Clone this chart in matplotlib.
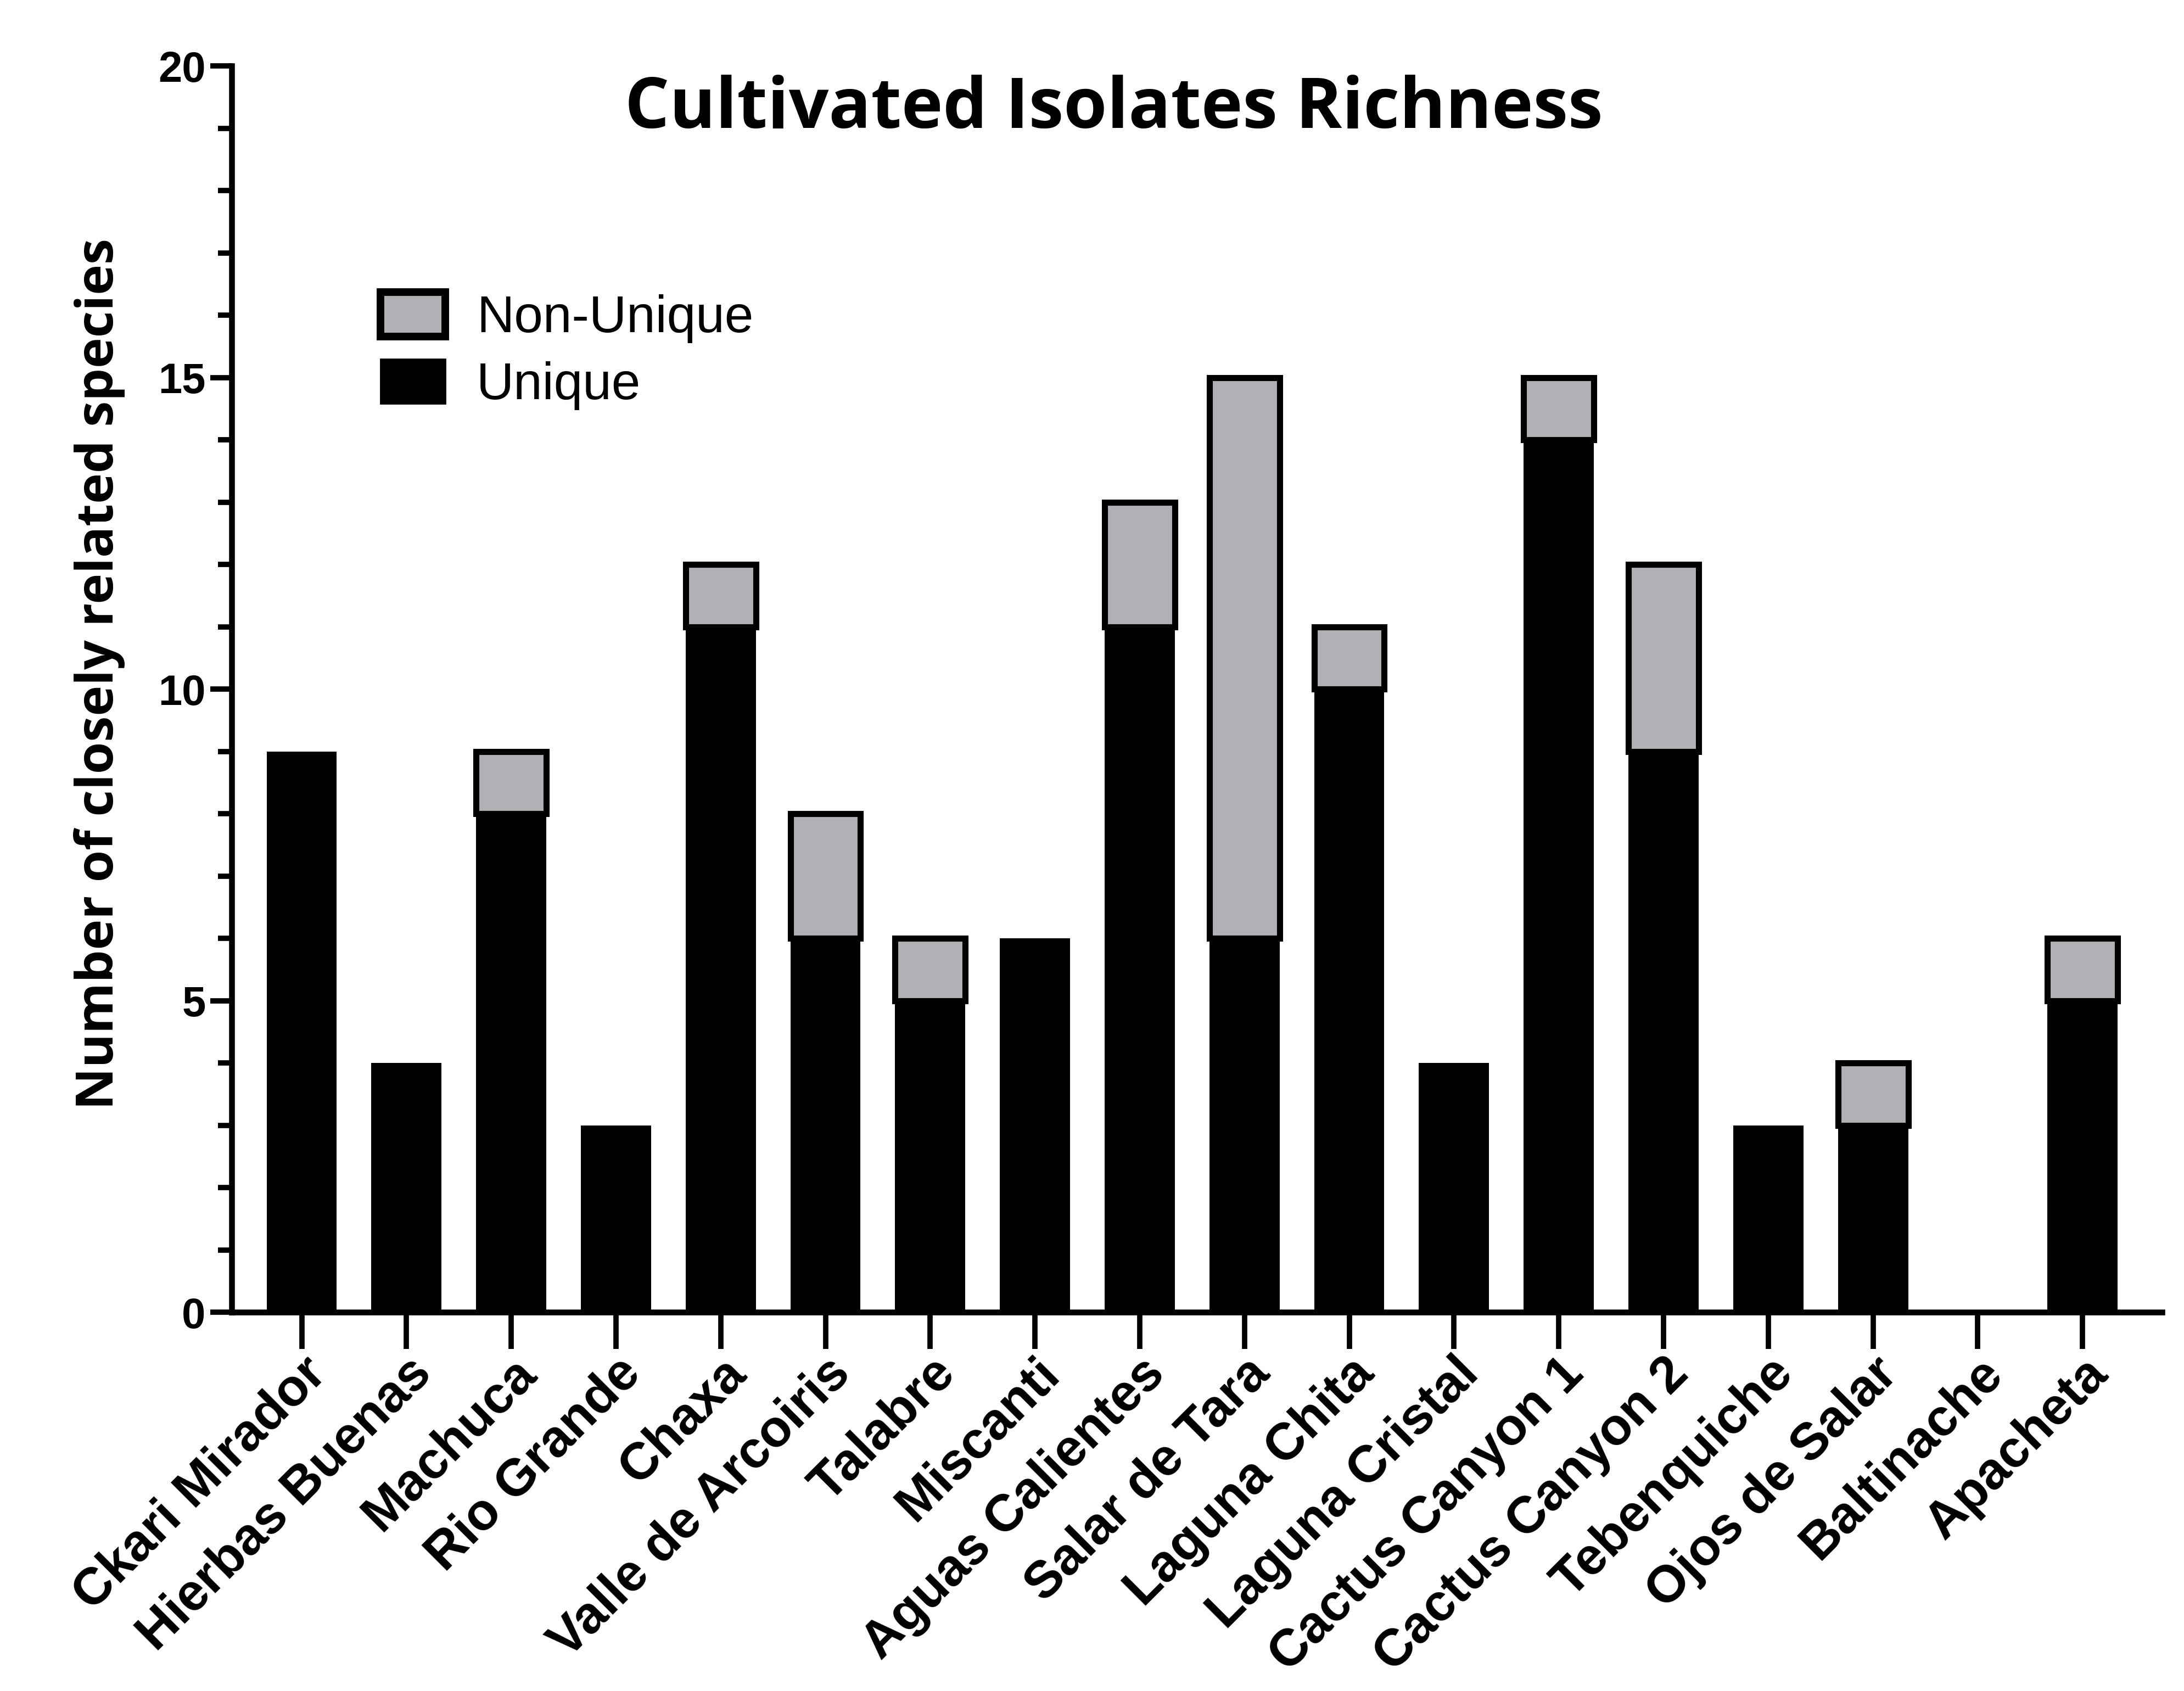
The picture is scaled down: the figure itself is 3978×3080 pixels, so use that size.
import matplotlib
matplotlib.use("Agg")
import matplotlib.pyplot as plt
import numpy as np
from matplotlib.ticker import MultipleLocator
from matplotlib.patches import Patch

sites = ["Ckari Mirador", "Hierbas Buenas", "Machuca", "Rio Grande", "Chaxa",
         "Valle de Arcoiris", "Talabre", "Miscanti", "Aguas Calientes",
         "Salar de Tara", "Laguna Chita", "Laguna Cristal", "Cactus Canyon 1",
         "Cactus Canyon 2", "Tebenquiche", "Ojos de Salar", "Baltinache", "Apacheta"]
unique = [9, 4, 8, 3, 11, 6, 5, 6, 11, 6, 10, 4, 14, 9, 3, 3, 0, 5]
non_unique = [0, 0, 1, 0, 1, 2, 1, 0, 2, 9, 1, 0, 1, 3, 0, 1, 0, 1]

GRAY = "#b1b1b5"

fig = plt.figure(figsize=(19.89, 15.4), dpi=200)
ax = fig.add_axes([0.106, 0.224, 0.884, 0.737])

x = np.arange(len(sites))
width = 0.67
ax.bar(x, unique, width, color="black", edgecolor="black", linewidth=0, label="Unique")
nu = np.array(non_unique)
ax.bar(x[nu > 0], nu[nu > 0], width, bottom=np.array(unique)[nu > 0], color=GRAY,
       edgecolor="black", linewidth=4, label="Non-Unique")

ax.set_xlim(-0.67, len(sites) - 1 + 0.76)
ax.set_ylim(0, 20)
ax.yaxis.set_major_locator(MultipleLocator(5))
ax.yaxis.set_minor_locator(MultipleLocator(1))

for side in ["top", "right"]:
    ax.spines[side].set_visible(False)
for side in ["left", "bottom"]:
    ax.spines[side].set_linewidth(3.8)

ax.tick_params(axis="y", which="major", length=14, width=3.5, labelsize=28, pad=3)
ax.tick_params(axis="y", which="minor", length=9, width=3.5)
ax.tick_params(axis="x", which="major", length=24, width=3.5, labelsize=34, pad=0)
for lab in ax.get_yticklabels():
    lab.set_fontfamily("Liberation Sans")
    lab.set_fontweight("bold")

ax.set_xticks(x)
ax.set_xticklabels(sites, rotation=45, ha="right", rotation_mode="anchor",
                   fontfamily="Liberation Sans", fontweight="bold")

ax.set_ylabel("Number of closely related species", fontsize=34, fontweight="bold",
              fontfamily="Open Sans", labelpad=20)
ax.yaxis.set_label_coords(-0.055, 0.512)
fig.text(0.51, 0.935, "Cultivated Isolates Richness", fontsize=46, fontweight="bold",
         fontfamily="Open Sans", ha="center", va="center")

handles = [Patch(facecolor=GRAY, edgecolor="black", linewidth=5),
           Patch(facecolor="black", edgecolor="black")]
ax.legend(handles, ["Non-Unique", "Unique"], loc="upper left",
          bbox_to_anchor=(0.053, 0.856), frameon=False,
          prop={"family": "Liberation Sans", "size": 34},
          handlelength=1.25, handleheight=0.95, handletextpad=0.6, labelspacing=0.3)

fig.savefig("out.png", dpi=200, facecolor="white")
